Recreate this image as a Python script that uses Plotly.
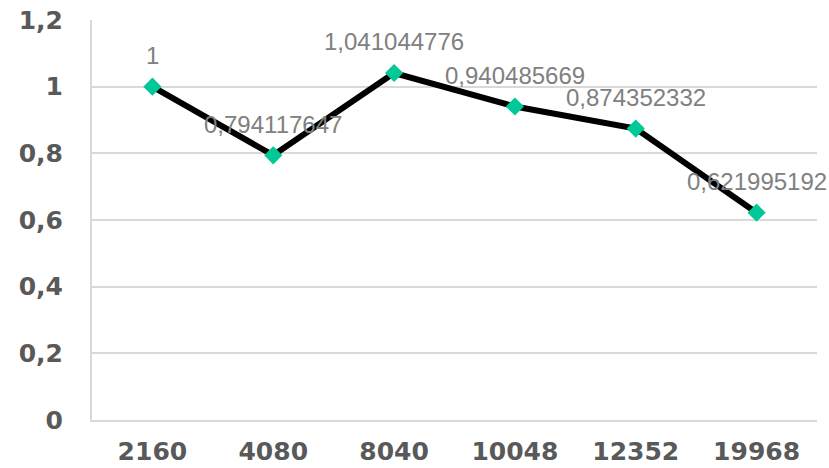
import plotly.graph_objects as go

# Relative values per sample size
categories = ["2160", "4080", "8040", "10048", "12352", "19968"]
values = [1, 0.794117647, 1.041044776, 0.940485669, 0.874352332, 0.621995192]
y_ticks = [0, 0.2, 0.4, 0.6, 0.8, 1.0, 1.2]


def fmt(v):
    # decimal comma, as in the source table
    return str(v).replace(".", ",")


labels = [fmt(v) for v in values]

fig = go.Figure(
    go.Scatter(
        x=categories,
        y=values,
        mode="lines+markers",
        line=dict(color="#000000", width=6),
        marker=dict(symbol="diamond", size=14, color="#00C896"),
        cliponaxis=False,
        showlegend=False,
    )
)

# value labels above each point (category axis positions are 0..n-1)
for i, (v, t) in enumerate(zip(values, labels)):
    fig.add_annotation(
        x=i, y=v, text=t, showarrow=False, yshift=31,
        font=dict(family="Liberation Sans, Arial, sans-serif", size=24, color="#808080"),
    )

tick_font = dict(family="DejaVu Sans, Verdana, sans-serif", size=25, color="#595959", weight="bold")

fig.update_layout(
    width=829,
    height=468,
    margin=dict(l=92, r=12, t=20, b=48),
    paper_bgcolor="white",
    plot_bgcolor="white",
    separators=",.",
    xaxis=dict(
        type="category",
        categoryorder="array",
        categoryarray=categories,
        range=[-0.5, len(categories) - 0.5],
        automargin=False,
        showgrid=False,
        showline=True,
        linecolor="#D9D9D9",
        linewidth=2,
        ticks="",
        tickfont=tick_font,
        ticklabelstandoff=8,
    ),
    yaxis=dict(
        range=[0, 1.2],
        automargin=False,
        tickvals=y_ticks,
        showgrid=True,
        gridcolor="#D9D9D9",
        gridwidth=2,
        showline=True,
        linecolor="#D9D9D9",
        linewidth=2,
        zeroline=False,
        ticks="",
        tickfont=tick_font,
        ticklabelstandoff=22,
    ),
)

fig.write_html("out.html")
